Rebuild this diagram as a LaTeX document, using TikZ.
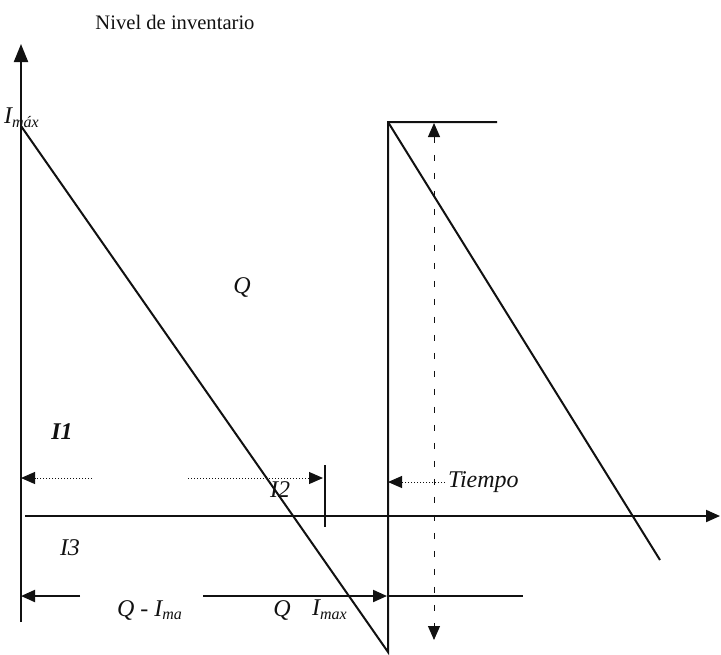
\documentclass[tikz,border=0pt]{standalone}
\usepackage{fontspec}
\setmainfont{Liberation Serif}
\usetikzlibrary{arrows.meta}
\definecolor{plotink}{HTML}{111111}

\begin{document}
\begin{tikzpicture}[
  x=0.5pt,
  y=-0.5pt,
  line width=1pt,
  every node/.style={font=\large\itshape, text=plotink},
  tip/.style={-{Triangle[length=7pt,width=6pt]}},
  dimline/.style={plotink, densely dotted, line width=0.5pt}
]
  \useasboundingbox (0,0) rectangle (721,654);

  \coordinate (yb) at (21,622);
  \coordinate (yt) at (21,44);
  \coordinate (xl) at (25,516);
  \coordinate (xr) at (720,516);
  \coordinate (imax) at (21,126);
  \coordinate (low) at (388,652);
  \coordinate (top) at (388,122);
  \coordinate (topend) at (497,122);
  \coordinate (end2) at (660,560);

  % axes
  \draw[plotink, -{Triangle[length=9pt,width=7pt]}] (yb) -- (yt);
  \draw[plotink, tip] (xl) -- (xr);

  % saw teeth
  \draw[plotink] (imax) -- (low) -- (top) -- (topend);
  \draw[plotink] (top) -- (end2);

  % I1 / I2 marks
  \coordinate (a1) at (21,478);
  \coordinate (a2) at (92,478);
  \coordinate (a3) at (188,478);
  \coordinate (a4) at (323,478);
  \draw[dimline, tip] (a2) -- (a1);
  \draw[dimline, tip] (a3) -- (a4);
  \draw[plotink] (325,465) coordinate (k1) -- (325,527) coordinate (k2);

  % Q - Imax
  \coordinate (b1) at (21,596);
  \coordinate (b2) at (80,596);
  \coordinate (b3) at (203,596);
  \coordinate (b4) at (387,596);
  \coordinate (b5) at (523,596);
  \draw[plotink, tip] (b2) -- (b1);
  \draw[plotink, tip] (b3) -- (b4);
  \draw[plotink] (low |- b4) -- (b5);

  % Q
  \coordinate (c1) at (434,123);
  \coordinate (c2) at (434,640);
  \draw[plotink, line width=0.5pt, dash pattern=on 3pt off 6pt,
    {Triangle[length=7pt,width=6pt]}-{Triangle[length=7pt,width=6pt]}] (c1) -- (c2);

  \node[font=\fontsize{10.3}{12}\selectfont] (ttl) at (175,22) {Nivel de inventario};
  \node (lmax) at (22,118) {I\textsubscript{máx}};
  \node (lq) at (242,287) {Q};
  \node[font=\large\bfseries\itshape] (l1) at (62,432) {I1};
  \node (l2) at (280,490) {I2};
  \node (l3) at (70,548) {I3};
  \node (lqi) at (150,610) {Q - I\textsubscript{ma}};
  \node (lq2) at (282,610) {Q};
  \node (lim) at (330,610) {I\textsubscript{max}};
  \node[anchor=west, inner sep=1pt] (ltime) at (445,482) {Tiempo};
  \draw[dimline, tip] (ltime.west) -- (low |- ltime.west);
\end{tikzpicture}
\end{document}
